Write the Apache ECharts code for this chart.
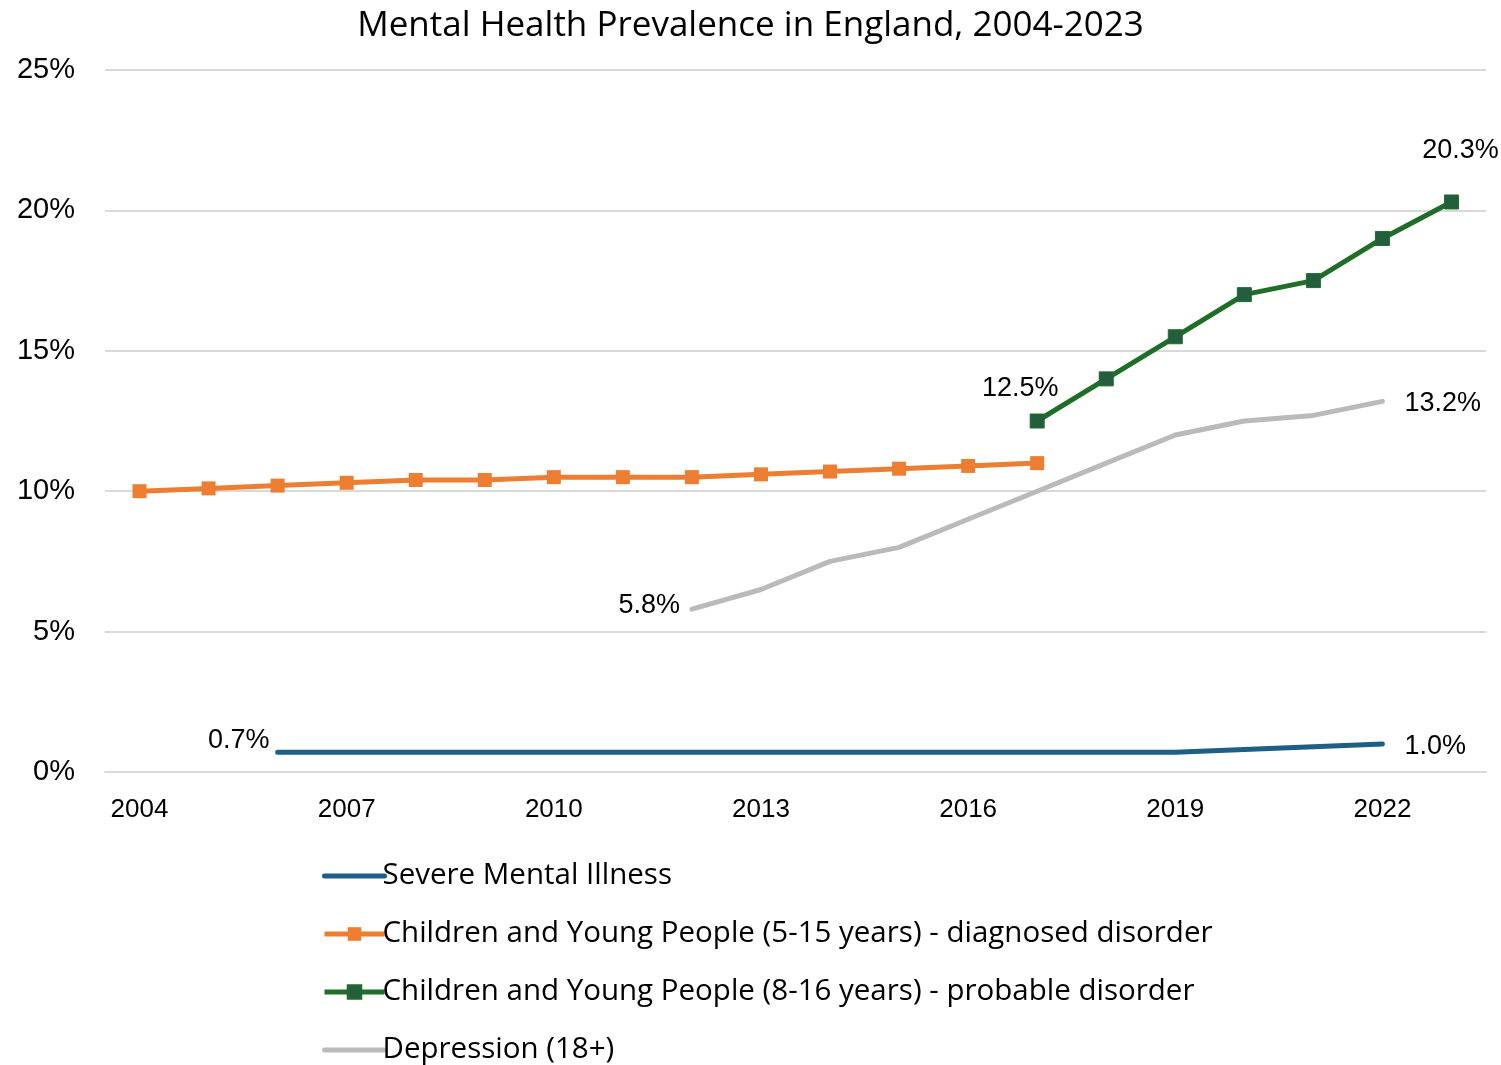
<!DOCTYPE html>
<html>
<head>
<meta charset="utf-8">
<script src="https://cdn.jsdelivr.net/npm/echarts@6/dist/echarts.min.js"></script>
<style>html,body{margin:0;padding:0;background:#fff}#c{width:1501px;height:1065px}</style>
</head>
<body>
<div id="c"></div>
<script>
var years = ['2004','2005','2006','2007','2008','2009','2010','2011','2012','2013','2014','2015','2016','2017','2018','2019','2020','2021','2022','2023'];
var yTicks = [0, 5, 10, 15, 20, 25];
var severe =     [null, null, 0.7, 0.7, 0.7, 0.7, 0.7, 0.7, 0.7, 0.7, 0.7, 0.7, 0.7, 0.7, 0.7, 0.7, 0.8, 0.9, 1.0, null];
var cyp515 =     [10.0, 10.1, 10.2, 10.3, 10.4, 10.4, 10.5, 10.5, 10.5, 10.6, 10.7, 10.8, 10.9, 11.0, null, null, null, null, null, null];
var cyp816 =     [null, null, null, null, null, null, null, null, null, null, null, null, null, 12.5, 14.0, 15.5, 17.0, 17.5, 19.0, 20.3];
var depression = [null, null, null, null, null, null, null, null, 5.8, 6.5, 7.5, 8.0, 9.0, 10.0, 11.0, 12.0, 12.5, 12.7, 13.2, null];
var names = ['Severe Mental Illness', 'Children and Young People (5-15 years) - diagnosed disorder', 'Children and Young People (8-16 years) - probable disorder', 'Depression (18+)'];

var TICKFONT = 'Liberation Sans, Arial, sans-serif';
var MAINFONT = 'Open Sans, Lato, sans-serif';
var labelFont = {fontFamily: TICKFONT, fontSize: 27, color: '#000'};
function withLabels(arr, specs) {
  return arr.map(function (v, i) {
    if (specs[i]) {
      return {value: v, label: Object.assign({show: true, formatter: function (p) { return p.value.toFixed(1) + '%'; }}, labelFont, specs[i])};
    }
    return v;
  });
}
var firstIdx = function (a) { return a.findIndex(function (v) { return v !== null; }); };
var lastIdx = function (a) { for (var i = a.length - 1; i >= 0; i--) if (a[i] !== null) return i; return -1; };

var sevSpec = {}; sevSpec[firstIdx(severe)] = {position: 'left', distance: 8, offset: [0, -12]}; sevSpec[lastIdx(severe)] = {position: 'right', distance: 22, offset: [0, 3]};
var greenSpec = {}; greenSpec[firstIdx(cyp816)] = {position: 'top', distance: 11, offset: [-17, 0]}; greenSpec[lastIdx(cyp816)] = {position: 'top', distance: 30, offset: [9, 0]};
var depSpec = {}; depSpec[firstIdx(depression)] = {position: 'left', distance: 12, offset: [0, -4]}; depSpec[lastIdx(depression)] = {position: 'right', distance: 22, offset: [0, 2]};

var chart = echarts.init(document.getElementById('c'), null, {renderer: 'canvas'});
chart.setOption({
  animation: false,
  backgroundColor: '#fff',
  title: {
    text: 'Mental Health Prevalence in England, 2004-2023',
    left: 'center', top: 4,
    textStyle: {fontFamily: MAINFONT, fontSize: 35, fontWeight: 'normal', color: '#000'}
  },
  grid: {left: 105, right: 15, top: 70, bottom: 293, containLabel: false},
  legend: {
    orient: 'vertical', left: 317, top: 854, height: 220,
    itemWidth: 60, itemHeight: 17, itemGap: 24,
    lineStyle: {width: 5},
    textStyle: {fontFamily: MAINFONT, fontSize: 29.5, color: '#000', lineHeight: 34, padding: [0, 0, 0, -7]},
    data: [
      {name: names[0], itemStyle: {opacity: 0}},
      {name: names[1]},
      {name: names[2]},
      {name: names[3], itemStyle: {opacity: 0}}
    ]
  },
  xAxis: {
    type: 'category', data: years, boundaryGap: true,
    axisLine: {show: true, lineStyle: {color: '#D9D9D9', width: 2}},
    axisTick: {show: false},
    axisLabel: {interval: 2, margin: 25, fontFamily: TICKFONT, fontSize: 26, color: '#000'}
  },
  yAxis: {
    type: 'value', min: yTicks[0], max: yTicks[yTicks.length - 1], interval: 5,
    axisLine: {show: false}, axisTick: {show: false},
    splitLine: {lineStyle: {color: '#D9D9D9', width: 2}},
    axisLabel: {margin: 30, fontFamily: TICKFONT, fontSize: 29, color: '#000', formatter: '{value}%'}
  },
  series: [
    {name: names[0], type: 'line', data: withLabels(severe, sevSpec), symbol: 'circle', symbolSize: 0, showSymbol: true, lineStyle: {color: '#1D5F86', width: 5, cap: 'round'}, itemStyle: {color: '#1D5F86'}, z: 3},
    {name: names[1], type: 'line', data: withLabels(cyp515, {}), symbol: 'rect', symbolSize: 14, lineStyle: {color: '#ED7D31', width: 5}, itemStyle: {color: '#ED7D31'}, z: 4},
    {name: names[2], type: 'line', data: withLabels(cyp816, greenSpec), symbol: 'rect', symbolSize: 14, lineStyle: {color: '#1E6E28', width: 5}, itemStyle: {color: '#245E3E', borderColor: '#1E6E28', borderWidth: 1}, z: 5},
    {name: names[3], type: 'line', data: withLabels(depression, depSpec), symbol: 'circle', symbolSize: 0, showSymbol: true, lineStyle: {color: '#BABABA', width: 5, cap: 'round'}, itemStyle: {color: '#BABABA'}, z: 2}
  ]
});
</script>
</body>
</html>
